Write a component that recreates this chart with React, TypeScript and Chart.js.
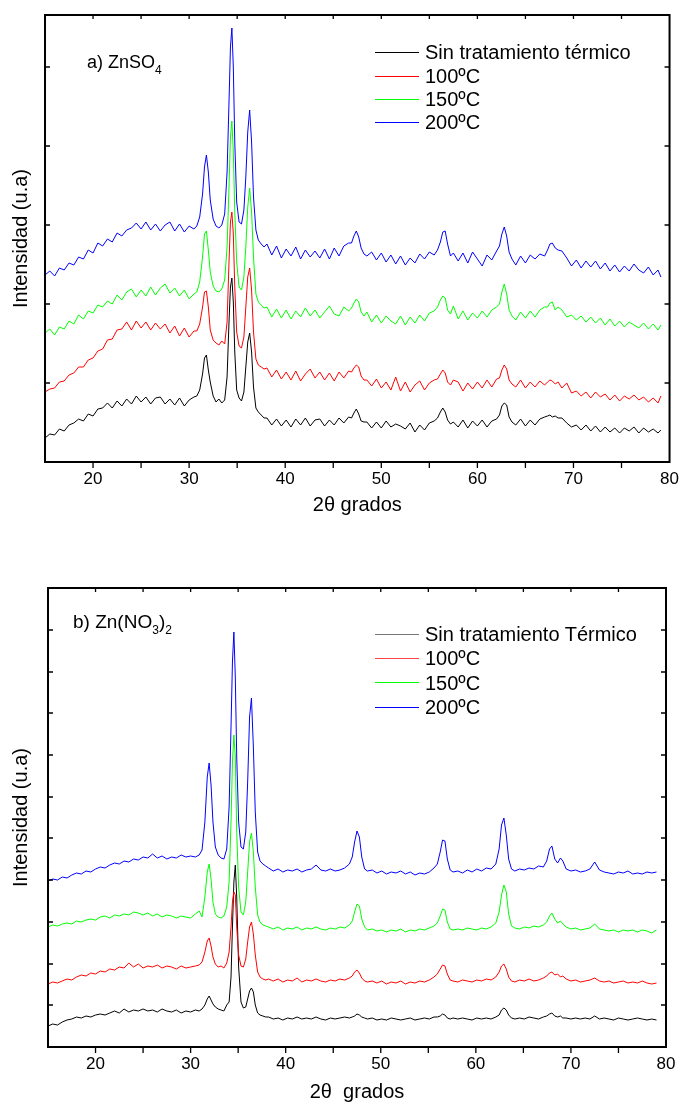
import React, { useEffect, useRef } from 'react';
import { Chart, registerables } from 'chart.js';

Chart.register(...registerables);

const FONT = '"Liberation Sans", Arial, Helvetica, sans-serif';
Chart.defaults.font.family = FONT;

// ---------- Panel a) ZnSO4 ----------
const xA = [
  15, 15.5, 16, 16.5, 17, 17.5, 18, 18.5, 19, 19.5, 20, 20.5, 21, 21.5, 22, 22.5, 23, 23.5, 24, 24.5, 25, 25.5, 26, 26.5, 27, 27.5, 28, 28.5, 29, 29.5, 30, 30.5,
  30.8, 31.1, 31.4, 31.6, 31.8, 32.0, 32.2, 32.5, 32.8, 33.1, 33.4, 33.7, 33.95, 34.15, 34.3, 34.45, 34.6, 34.75, 34.95, 35.2, 35.45, 35.7, 35.9, 36.1, 36.3, 36.5, 36.7, 36.95, 37.2, 37.5, 37.8,
  38.1, 38.6, 39.1, 39.6, 40.1, 40.6, 41.1, 41.6, 42.1, 42.6, 43.1, 43.6, 44.1, 44.6, 45.1, 45.6, 46.1, 46.6,
  46.9, 47.15, 47.4, 47.65, 47.9, 48.2,
  48.5, 49, 49.5, 50, 50.5, 51, 51.5, 52, 52.5, 53, 53.5, 54, 54.5, 55, 55.5,
  55.85, 56.15, 56.4, 56.65, 56.9, 57.2, 57.5,
  58, 58.5, 59, 59.5, 60, 60.5, 61, 61.5, 62,
  62.3, 62.55, 62.8, 63.05, 63.3, 63.6,
  64, 64.5, 65, 65.5, 66, 66.5, 67,
  67.3, 67.55, 67.8, 68.1, 68.4,
  68.8, 69.3, 69.8, 70.3, 70.8, 71.3, 71.8, 72.3, 72.8, 73.3, 73.8, 74.3, 74.8, 75.3, 75.8, 76.3, 76.8, 77.3, 77.8, 78.3, 78.8, 79.1,
];

const blackA = [
  24, 28, 27, 33, 31, 37, 39, 43, 41, 48, 46, 53, 54, 59, 54, 61, 56, 63,
  58, 66, 60, 65, 58, 64, 65, 58, 63, 57, 64, 56, 62, 65,
  66, 72, 88, 104, 107, 92, 80, 66, 60, 63, 59, 62, 85, 140, 175, 184, 160, 110, 72, 64, 61, 70, 95, 120, 129, 110, 75, 54, 50, 47, 44,
  44, 37, 43, 36, 42, 35, 43, 37, 44, 36, 42, 43, 36, 42, 37, 44, 39, 45,
  44, 49, 53, 48, 41, 40,
  40, 34, 40, 34, 41, 35, 38, 36, 33, 39, 30, 37, 32, 39, 41,
  44, 50, 54, 50, 42, 38, 40,
  35, 42, 34, 41, 36, 42, 35, 41, 43,
  47, 56, 59, 57, 45, 40,
  37, 43, 36, 42, 37, 43, 45,
  46, 47, 45, 46, 44,
  44, 39, 35, 37, 32, 37, 31, 36, 30, 35, 30, 34, 29, 34, 31, 35, 29, 34, 30, 33, 29, 32,
];

const redA = [
  70, 73, 74, 80, 81, 87, 89, 95, 95, 102, 104, 111, 113, 122, 123, 132, 133, 140,
  132, 141, 134, 140, 132, 139, 133, 138, 129, 136, 126, 134, 125, 131,
  131, 138, 155, 170, 171, 155, 132, 122, 119, 117, 121, 118, 140, 200, 240, 250, 228, 175, 130, 116, 114, 125, 155, 185, 194, 172, 130, 103, 97, 95, 93,
  94, 85, 92, 83, 90, 82, 91, 81, 88, 93, 84, 90, 82, 89, 81, 90, 84, 91,
  90, 94, 97, 95, 86, 82,
  82, 76, 83, 74, 80, 72, 85, 71, 80, 70, 77, 81, 72, 79, 82,
  83, 88, 92, 89, 80, 77, 82,
  80, 71, 79, 73, 80, 74, 82, 75, 83,
  84, 92, 97, 93, 82, 78,
  75, 82, 74, 80, 75, 81, 77,
  80, 82, 81, 78, 80,
  74, 79, 69, 71, 66, 70, 64, 70, 65, 68, 62, 67, 61, 66, 63, 67, 62, 65, 60, 64, 59, 66,
];

const greenA = [
  129, 133, 127, 135, 133, 141, 138, 147, 143, 151, 149, 157, 155, 161, 158, 167, 162, 170,
  173, 165, 172, 166, 175, 167, 174, 178, 169, 174, 166, 172, 163, 168,
  170, 180, 205, 228, 231, 212, 190, 176, 171, 170, 173, 182, 215, 275, 325, 341, 310, 250, 200, 175, 172, 185, 215, 255, 274, 250, 205, 168, 160, 157, 154,
  155, 145, 153, 144, 152, 143, 151, 145, 154, 146, 152, 144, 150, 156, 148, 146, 155, 151,
  154, 159, 163, 160, 150, 146,
  150, 140, 147, 139, 146, 141, 138, 146, 137, 145, 139, 147, 141, 149, 151,
  155, 162, 166, 164, 152, 148, 156,
  143, 151, 142, 149, 144, 151, 145, 152, 155,
  158, 170, 178, 168, 152, 146,
  142, 150, 144, 151, 145, 152, 155,
  155, 159, 160, 152, 155,
  152, 145, 147, 142, 146, 140, 145, 139, 144, 137, 143, 136, 141, 135, 140, 137, 134, 139, 133, 138, 132, 137,
];

const blueA = [
  187, 191, 186, 194, 192, 199, 197, 205, 203, 212, 209, 219, 216, 223, 220, 229, 226, 232,
  234, 239, 233, 240, 232, 238, 231, 237, 240, 231, 238, 230, 236, 233,
  236, 245, 268, 295, 307, 290, 262, 243, 236, 234, 237, 248, 290, 360, 415, 434, 395, 320, 260, 240, 238, 252, 285, 330, 352, 320, 265, 232, 222, 218, 215,
  218, 207, 216, 204, 213, 206, 215, 203, 212, 205, 211, 204, 213, 203, 214, 206, 216, 219,
  219, 226, 231, 225, 214, 208,
  206, 210, 202, 209, 200, 207, 198, 206, 197, 204, 199, 208, 203, 210, 207,
  212, 220, 230, 231, 218, 206, 209,
  201, 209, 199, 210, 203, 196, 207, 202, 211,
  216, 228, 235, 226, 210, 203,
  197, 206, 199, 207, 203, 208, 206,
  212, 218, 219, 214, 212,
  211, 204, 196, 202, 194, 201, 195, 201, 193, 199, 191, 197, 190, 196, 191, 198, 192, 189, 195, 187, 192, 185,
];

// ---------- Panel b) Zn(NO3)2 ----------
const xB = [
  15, 15.5, 16, 16.5, 17, 17.5, 18, 18.5, 19, 19.5, 20, 20.5, 21, 21.5, 22, 22.5, 23, 23.5, 24, 24.5, 25, 25.5, 26, 26.5, 27, 27.5, 28, 28.5, 29, 29.5, 30, 30.5,
  30.9, 31.2, 31.5, 31.75, 31.95, 32.15, 32.35, 32.6, 32.9, 33.2, 33.5, 33.8, 34.05, 34.25, 34.4, 34.55, 34.7, 34.85, 35.05, 35.3, 35.55, 35.8, 36.0, 36.2, 36.4, 36.6, 36.8, 37.05, 37.3, 37.6, 37.9,
  38.2, 38.7, 39.2, 39.7, 40.2, 40.7, 41.2, 41.7, 42.2, 42.7, 43.2, 43.7, 44.2, 44.7, 45.2, 45.7, 46.2, 46.7,
  47.0, 47.25, 47.5, 47.75, 48.0, 48.3,
  48.6, 49.1, 49.6, 50.1, 50.6, 51.1, 51.6, 52.1, 52.6, 53.1, 53.6, 54.1, 54.6, 55.1, 55.6,
  55.95, 56.25, 56.5, 56.75, 57.0, 57.3, 57.6,
  58.1, 58.6, 59.1, 59.6, 60.1, 60.6, 61.1, 61.6, 62.1,
  62.45, 62.7, 62.95, 63.2, 63.45, 63.75,
  64.1, 64.6, 65.1, 65.6, 66.1, 66.6, 67.1,
  67.45, 67.75, 68.0, 68.3, 68.6, 68.9, 69.15,
  69.5, 70, 70.5, 71, 71.5, 72, 72.5, 73, 73.5, 74, 74.5, 75, 75.5, 76, 76.5, 77, 77.5, 78, 78.5, 79,
];

const blackB = [
  21, 23, 22, 25, 27, 28, 30, 29, 31, 30, 32, 33, 32, 34, 36, 34, 38, 35, 37, 36, 38, 36, 37, 35, 38, 36, 35, 37, 34, 36, 35, 37,
  36, 38, 42, 48, 51, 47, 43, 40, 38, 37, 36, 42, 45, 70, 120, 165, 182, 150, 80, 45, 39, 40, 48, 56, 59, 55, 42, 34, 32, 31, 30,
  30, 28, 29, 27, 29, 28, 30, 28, 29, 28, 30, 28, 27, 29, 28, 29, 30, 29,
  30, 31, 33, 32, 30, 29,
  28, 29, 27, 28, 27, 29, 28, 27, 28, 29, 27, 28, 29, 28, 30,
  30, 31, 33, 32, 29, 28, 29,
  28, 29, 28, 27, 29, 28, 29, 28, 30,
  32, 37, 39, 37, 32, 29,
  28, 29, 28, 30, 29, 28, 30,
  31, 33, 34, 31, 30, 31, 29,
  29, 28, 29, 28, 29, 28, 31, 28, 29, 28, 27, 29, 28, 27, 28, 29, 28, 27, 28, 27,
];

const redB = [
  63, 65, 64, 66, 68, 67, 70, 72, 71, 74, 73, 76, 75, 78, 77, 80, 79, 84, 80, 83, 79, 81, 80, 82, 79, 81, 80, 78, 81, 79, 80, 81,
  82, 85, 95, 106, 109, 101, 90, 83, 80, 81, 79, 84, 95, 120, 145, 155, 152, 120, 92, 81, 80, 88, 105, 120, 125, 113, 92, 75, 70, 68, 67,
  68, 66, 68, 65, 67, 66, 69, 65, 67, 66, 68, 66, 65, 67, 66, 68, 67, 69,
  71, 75, 77, 74, 69, 66,
  65, 66, 64, 66, 63, 65, 64, 66, 63, 65, 64, 66, 65, 67, 70,
  73, 78, 82, 81, 73, 67, 66,
  65, 67, 66, 65, 67, 66, 68, 67, 70,
  75, 81, 83, 78, 70, 66,
  65, 67, 66, 68, 66, 67, 69,
  71, 74, 75, 72, 73, 70, 71,
  68, 66, 67, 65, 66, 67, 69, 66, 65, 66, 64, 65, 66, 64, 65, 64, 66, 64, 63, 64,
];

const greenB = [
  120, 122, 121, 123, 124, 123, 126, 125, 127, 128, 127, 130, 131, 129, 132, 131, 133, 132, 135, 134, 132, 134, 131, 133, 130, 132, 131, 129, 131, 130, 129, 133,
  136, 130, 150, 175, 183, 168, 145, 133, 130, 129, 131, 140, 165, 225, 285, 312, 290, 215, 160, 135, 132, 145, 175, 205, 214, 195, 160, 132, 125, 122, 121,
  120, 118, 120, 117, 119, 118, 120, 117, 119, 118, 120, 118, 117, 119, 118, 120, 119, 122,
  126, 135, 143, 141, 128, 120,
  117, 118, 116, 117, 115, 117, 116, 118, 115, 117, 116, 118, 117, 119, 121,
  124, 131, 138, 137, 125, 118, 117,
  118, 117, 119, 118, 117, 119, 118, 120, 124,
  135, 152, 162, 155, 133, 121,
  119, 118, 120, 119, 121, 120, 122,
  125, 131, 134, 128, 124, 126, 123,
  120, 118, 119, 117, 118, 119, 123, 118, 117, 116, 117, 115, 117, 116, 117, 115, 117, 116, 114, 117,
];

const blueB = [
  166, 168, 167, 170, 169, 172, 174, 173, 176, 175, 178, 180, 179, 182, 184, 183, 186, 185, 188, 187, 190, 189, 193, 189, 191, 188, 190, 189, 192, 190, 191, 190,
  192, 197, 225, 270, 284, 262, 225, 200, 192, 189, 188, 198, 240, 320, 385, 415, 370, 290, 225, 200, 198, 215, 265, 330, 349, 300, 235, 195, 186, 183, 181,
  179, 176, 178, 175, 177, 176, 178, 175, 177, 178, 182, 177, 176, 178, 176, 177, 179, 183,
  190, 205, 216, 210, 190, 178,
  176, 177, 174, 176, 173, 175, 174, 176, 173, 175, 172, 174, 173, 175, 179,
  183, 195, 207, 206, 188, 177, 175,
  176, 174, 177, 175, 178, 176, 179, 178, 183,
  198, 222, 229, 212, 188, 178,
  176, 178, 177, 179, 178, 181, 180,
  186, 198, 201, 188, 184, 189, 186,
  178, 176, 177, 175, 176, 178, 185, 177, 175, 174, 173, 175, 174, 176, 173, 174, 173, 175, 174, 175,
];

// ---------- Axes / labels ----------
const xLabelValues = [20, 30, 40, 50, 60, 70, 80];
const xTickMarks = [20, 25, 30, 35, 40, 45, 50, 55, 60, 65, 70, 75];
const yTicksA = [79, 158, 237, 316, 395];
const yTicksB = [42, 83, 125, 167, 209, 250, 292, 334, 375, 417];
const yMaxA = 447;
const yMaxB = 459;

const legendA = ['Sin tratamiento térmico', '100ºC', '150ºC', '200ºC'];
const legendB = ['Sin tratamiento Térmico', '100ºC', '150ºC', '200ºC'];
const seriesColors = ['#000000', '#ff0000', '#00ff00', '#0000ff'];
const legendColorsB = ['#777777', '#ff4444', '#00ff00', '#0000ff'];

const frameTicks = {
  id: 'frameTicks',
  afterDatasetsDraw(chart: any, _args: any, opts: any) {
    const { ctx, chartArea: ca } = chart;
    const xs = chart.scales.x;
    const ys = chart.scales.y;
    ctx.save();
    ctx.strokeStyle = '#000';
    ctx.lineWidth = 1.3;
    ctx.beginPath();
    for (const v of opts.xTicks) {
      const p = xs.getPixelForValue(v);
      ctx.moveTo(p, ca.bottom);
      ctx.lineTo(p, ca.bottom + 6);
      ctx.moveTo(p, ca.top);
      ctx.lineTo(p, ca.top + 4);
    }
    for (const v of opts.yTicks) {
      const p = ys.getPixelForValue(v);
      ctx.moveTo(ca.left, p);
      ctx.lineTo(ca.left + 5, p);
      ctx.moveTo(ca.right, p);
      ctx.lineTo(ca.right - 5, p);
    }
    ctx.stroke();
    ctx.lineWidth = 2;
    ctx.strokeRect(ca.left, ca.top, ca.right - ca.left, ca.bottom - ca.top);
    ctx.restore();
  },
};

type PanelProps = {
  top: number;
  height: number;
  padTop: number;
  padRight: number;
  yWidth: number;
  axisBottom: number;
  titlePadBottom: number;
  xs: number[];
  series: number[][];
  yMax: number;
  yTicks: number[];
  xTitle: string;
};

function XrdPanel(p: PanelProps) {
  const ref = useRef<HTMLCanvasElement>(null);
  useEffect(() => {
    const canvas = ref.current;
    if (!canvas) return;
    const orders = [3, 2, 1, 0];
    const datasets = p.series.map((ys, k) => ({
      data: p.xs.map((x, i) => ({ x, y: ys[i] })),
      borderColor: seriesColors[k],
      borderWidth: 1,
      pointRadius: 0,
      fill: false,
      tension: 0,
      order: orders[k],
    }));
    const chart = new Chart(canvas, {
      type: 'line',
      data: { datasets },
      plugins: [frameTicks],
      options: {
        responsive: false,
        animation: false,
        events: [],
        layout: { padding: { top: p.padTop, right: p.padRight, left: 0, bottom: 0 } },
        plugins: {
          legend: { display: false },
          tooltip: { enabled: false },
          frameTicks: { xTicks: xTickMarks, yTicks: p.yTicks },
        } as any,
        scales: {
          x: {
            type: 'linear',
            min: 15,
            max: 80,
            grid: { display: false, drawTicks: false },
            border: { display: false },
            afterBuildTicks: (s: any) => {
              s.ticks = xLabelValues.map((v) => ({ value: v }));
            },
            ticks: {
              color: '#000',
              font: { family: FONT, size: 17 },
              padding: 7,
              maxRotation: 0,
              autoSkip: false,
            },
            title: {
              display: true,
              text: p.xTitle,
              color: '#000',
              font: { family: FONT, size: 20 },
              padding: { top: 0, bottom: p.titlePadBottom },
            },
            afterFit: (s: any) => {
              s.height = p.height - p.axisBottom;
            },
          },
          y: {
            type: 'linear',
            min: 0,
            max: p.yMax,
            grid: { display: false, drawTicks: false },
            border: { display: false },
            ticks: { display: false },
            afterBuildTicks: (s: any) => {
              s.ticks = p.yTicks.map((v) => ({ value: v }));
            },
            title: {
              display: true,
              text: 'Intensidad (u.a)',
              color: '#000',
              font: { family: FONT, size: 20 },
              padding: { top: 9, bottom: 0 },
            },
            afterFit: (s: any) => {
              s.width = p.yWidth;
            },
          },
        },
      } as any,
    });
    return () => chart.destroy();
  }, []);
  return (
    <canvas
      ref={ref}
      width={686}
      height={p.height}
      style={{ position: 'absolute', left: 0, top: p.top, width: 686, height: p.height }}
    />
  );
}

function Legend({ top, rowH, labels, colors }: { top: number; rowH: number; labels: string[]; colors: string[] }) {
  return (
    <>
      {labels.map((lab, i) => (
        <div
          key={lab}
          style={{
            position: 'absolute',
            left: 375,
            top: top + i * rowH,
            height: rowH,
            display: 'flex',
            alignItems: 'center',
            whiteSpace: 'nowrap',
          }}
        >
          <div style={{ width: 44, height: 0, borderTop: `1.5px solid ${colors[i]}` }} />
          <span style={{ marginLeft: 6, fontFamily: FONT, fontSize: 20, lineHeight: `${rowH}px`, color: '#000' }}>{lab}</span>
        </div>
      ))}
    </>
  );
}

export default function App() {
  return (
    <div style={{ position: 'absolute', left: 0, top: 0, width: 686, height: 1106, background: '#fff', overflow: 'hidden' }}>
      <XrdPanel
        top={0}
        height={520}
        padTop={15}
        padRight={13}
        yWidth={45}
        axisBottom={462}
        titlePadBottom={3}
        xs={xA}
        series={[blackA, redA, greenA, blueA]}
        yMax={yMaxA}
        yTicks={yTicksA}
        xTitle="2θ grados"
      />
      <XrdPanel
        top={555}
        height={550}
        padTop={33}
        padRight={20}
        yWidth={48}
        axisBottom={492}
        titlePadBottom={1}
        xs={xB}
        series={[blackB, redB, greenB, blueB]}
        yMax={yMaxB}
        yTicks={yTicksB}
        xTitle="2θ  grados"
      />
      <div style={{ position: 'absolute', left: 87, top: 51, fontFamily: FONT, fontSize: 18, lineHeight: '22px', whiteSpace: 'nowrap' }}>
        a) ZnSO<span style={{ fontSize: 12, position: 'relative', top: 6 }}>4</span>
      </div>
      <div style={{ position: 'absolute', left: 73, top: 611, fontFamily: FONT, fontSize: 19, lineHeight: '22px', whiteSpace: 'nowrap' }}>
        b) Zn(NO<span style={{ fontSize: 12, position: 'relative', top: 6 }}>3</span>)<span style={{ fontSize: 12, position: 'relative', top: 6 }}>2</span>
      </div>
      <Legend top={41.3} rowH={23.3} labels={legendA} colors={seriesColors} />
      <Legend top={622} rowH={24.3} labels={legendB} colors={legendColorsB} />
    </div>
  );
}
